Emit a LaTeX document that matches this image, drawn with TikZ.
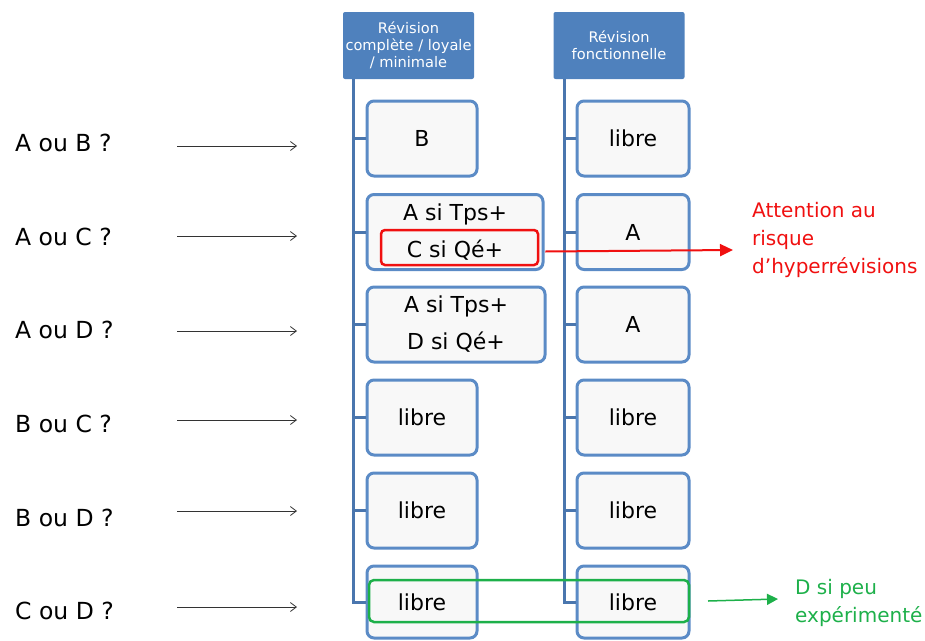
\documentclass[tikz,border=0pt]{standalone}
\usepackage{fontspec}
\setmainfont{DejaVu Sans}
\usetikzlibrary{arrows.meta}
\definecolor{hdr}{HTML}{4F81BD}
\definecolor{bdr}{HTML}{5B8BC6}
\definecolor{trunk}{HTML}{4A76AE}
\definecolor{boxfill}{HTML}{F8F8F8}
\definecolor{redc}{HTML}{F01010}
\definecolor{greenc}{HTML}{1DB04A}
\definecolor{arrc}{HTML}{333333}
\tikzset{
  hdrbox/.style={fill=hdr, rounded corners=2pt, minimum width=131pt, minimum height=67pt, inner sep=0pt, text=white, align=center, font=\fontsize{14.6}{17}\selectfont},
  itembox/.style={draw=bdr, line width=3pt, fill=boxfill, rounded corners=7pt, minimum height=75pt, inner sep=0pt, align=center, font=\fontsize{22}{37}\selectfont},
  trunkline/.style={draw=trunk, line width=3pt},
  qlabel/.style={anchor=west, inner sep=0pt, font=\fontsize{23.5}{24}\selectfont},
  qarrow/.style={draw=arrc, line width=0.8pt, -{Straight Barb[length=6pt,width=9pt]}},
  note/.style={anchor=north west, inner sep=0pt, align=left, font=\fontsize{20}{28}\selectfont}
}
\begin{document}
\begin{tikzpicture}[x=1pt,y=-1pt]
\useasboundingbox (0,0) rectangle (925,640);
% headers
\node[hdrbox] (h1) at (408.5,45.5) {Révision\\complète / loyale\\/ minimale};
\node[hdrbox] (h2) at (619,45.5) {Révision\\fonctionnelle};
% left column boxes
\node[itembox, minimum width=110pt] (l1) at (422,138.5) {B};
\node[itembox, minimum width=176pt] (l2) at (455,232) {A si Tps+\\C si Qé+};
\node[itembox, minimum width=178pt] (l3) at (456,324.5) {A si Tps+\\D si Qé+};
\node[itembox, minimum width=110pt] (l4) at (422,417.5) {libre};
\node[itembox, minimum width=110pt] (l5) at (422,510.5) {libre};
\node[itembox, minimum width=110pt, minimum height=72pt] (l6) at (422,602) {libre};
% right column boxes
\node[itembox, minimum width=112pt] (r1) at (633,138.5) {libre};
\node[itembox, minimum width=112pt] (r2) at (633,232) {A};
\node[itembox, minimum width=112pt] (r3) at (633,324.5) {A};
\node[itembox, minimum width=112pt] (r4) at (633,417.5) {libre};
\node[itembox, minimum width=112pt] (r5) at (633,510.5) {libre};
\node[itembox, minimum width=112pt, minimum height=72pt] (r6) at (633,602) {libre};
% trunks
\coordinate (tl0) at (353,79);
\coordinate (tl6) at (353,602);
\coordinate (tr0) at (564,79);
\coordinate (tr6) at (564,602);
\draw[trunkline] (tl0) -- (tl6) -- (l6.west);
\draw[trunkline] (tr0) -- (tr6) -- (r6.west);
\foreach \i in {1,...,5}{
  \draw[trunkline] (l\i.west -| tl0) -- (l\i.west);
  \draw[trunkline] (r\i.west -| tr0) -- (r\i.west);
}
% question labels and arrows
\node[qlabel] (q1) at (15,143) {A ou B ?};
\node[qlabel] (q2) at (15,237) {A ou C ?};
\node[qlabel] (q3) at (15,330) {A ou D ?};
\node[qlabel] (q4) at (15,424) {B ou C ?};
\node[qlabel] (q5) at (15,518) {B ou D ?};
\node[qlabel] (q6) at (15,611) {C ou D ?};
\foreach \i/\y in {1/146,2/236,3/331,4/420,5/511,6/607}{
  \coordinate (qa\i) at (177,\y);
  \coordinate (qb\i) at (297,\y);
  \draw[qarrow] (qa\i) -- (qb\i);
}
% red highlight
\node[draw=redc, line width=2.5pt, rounded corners=4pt, minimum width=157pt, minimum height=35pt] (red) at (459.5,247.5) {};
\coordinate (redend) at (733,250);
\draw[draw=redc, line width=2pt, -{Triangle[length=13pt,width=12pt]}] (red.east) ++(6,4) coordinate (redstart) (redstart) -- (redend);
\node[note, text=redc] (rednote) at (752,202) {Attention au\\risque\\d’hyperrévisions};
% green highlight
\node[draw=greenc, line width=2.5pt, rounded corners=5pt, minimum width=320pt, minimum height=42pt] (green) at (529,601) {};
\coordinate (gstart) at (708,601);
\coordinate (gend) at (778,599);
\draw[draw=greenc, line width=1.5pt, -{Triangle[length=11pt,width=11pt]}] (gstart) -- (gend);
\node[note, text=greenc] (greennote) at (795,579) {D si peu\\expérimenté};
\end{tikzpicture}
\end{document}
